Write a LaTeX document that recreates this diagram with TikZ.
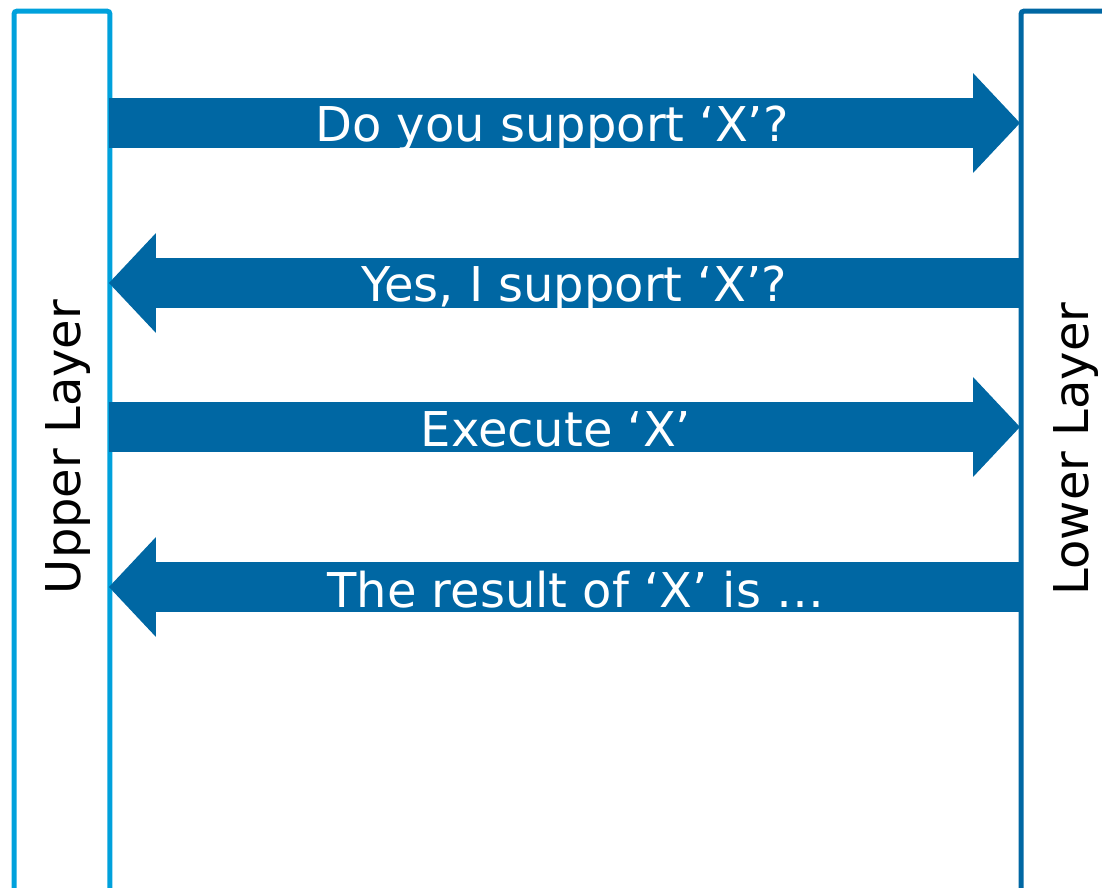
\documentclass[tikz,border=0pt]{standalone}
\usepackage{fontspec}
\setmainfont{DejaVu Sans}
\usetikzlibrary{arrows.meta}
\definecolor{upperblue}{RGB}{0,161,220}
\definecolor{msgblue}{RGB}{0,103,163}

\begin{document}
\begin{tikzpicture}[x=0.02cm,y=-0.02cm,
  layer/.style={draw,line width=0.1cm,rounded corners=0.06cm,inner sep=0pt},
  lbl/.style={rotate=90,anchor=base,font=\fontsize{27.3}{32}\selectfont},
  msg/.style={msgblue,line width=1cm,-{Triangle[length=0.94cm,width=2cm,line width=0pt]}},
  msgtext/.style={white,anchor=base,font=\fontsize{27.3}{32}\selectfont}]
\clip (0,0) rectangle (1102,888);
% the two layers
\node[layer,upperblue,minimum width=1.92cm,minimum height=18cm] (upper) at (62,461) {};
\node[layer,msgblue,minimum width=3.58cm,minimum height=18cm] (lower) at (1110.5,461) {};
\node[lbl] (upperlbl) at (80,447) {Upper Layer};
\node[lbl] (lowerlbl) at (1088,449) {Lower Layer};
% end points of the messages
\coordinate (u1) at (109,123);
\coordinate (l1) at (1020,123);
\coordinate (l2) at (1019,283);
\coordinate (u2) at (109,283);
\coordinate (u3) at (109,427);
\coordinate (l3) at (1020,427);
\coordinate (l4) at (1019,587);
\coordinate (u4) at (109,587);
\draw[msg] (u1) -- (l1);
\draw[msg] (l2) -- (u2);
\draw[msg] (u3) -- (l3);
\draw[msg] (l4) -- (u4);
\node[msgtext] (t1) at (552,142) {Do you support ‘X’?};
\node[msgtext] (t2) at (574,302) {Yes, I support ‘X’?};
\node[msgtext] (t3) at (556,446) {Execute ‘X’};
\node[msgtext] (t4) at (576,607) {The result of ‘X’ is …};
\end{tikzpicture}
\end{document}
